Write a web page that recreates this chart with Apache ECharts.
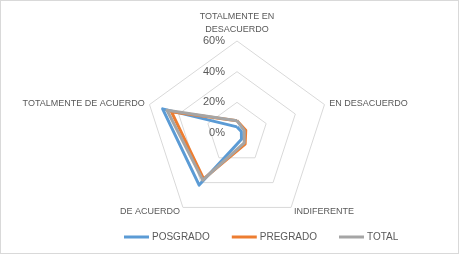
<!DOCTYPE html>
<html>
<head>
<meta charset="utf-8">
<script src="https://cdn.jsdelivr.net/npm/echarts@6/dist/echarts.min.js"></script>
<style>
  html, body { margin: 0; padding: 0; background: #fff; }
  #main { width: 457px; height: 252px; border: 1px solid #d9d9d9; }
</style>
</head>
<body>
<div id="main"></div>
<script>
  // categorias (sentido horario, empezando arriba como en Excel)
  var categorias = ['TOTALMENTE EN\nDESACUERDO', 'EN DESACUERDO', 'INDIFERENTE', 'DE ACUERDO', 'TOTALMENTE DE ACUERDO'];
  var posgrado = [4, 3, 5, 42, 51];
  var pregrado = [8, 6, 9, 37, 45];
  var total = [8, 5, 8, 38, 48];
  var escala = [0, 20, 40, 60];

  // echarts dibuja el radar en sentido antihorario -> invertir el orden (menos el primero)
  function horario(arr) {
    return [arr[0]].concat(arr.slice(1).reverse());
  }

  var chart = echarts.init(document.getElementById('main'));

  var option = {
    animation: false,
    color: ['#5b9bd5', '#ed7d31', '#a5a5a5'],
    legend: {
      bottom: 6,
      left: 118,
      icon: 'rect',
      itemWidth: 25,
      itemHeight: 3,
      itemGap: 22,
      textStyle: { color: '#595959', fontSize: 10, fontFamily: 'Liberation Sans', padding: [0, 0, 0, -2] },
      data: ['POSGRADO', 'PREGRADO', 'TOTAL']
    },
    radar: {
      center: [236, 132],
      radius: 92,
      startAngle: 90,
      shape: 'polygon',
      splitNumber: 3,
      indicator: horario(categorias).map(function (c) { return { name: c, max: escala[escala.length - 1], min: 0 }; }),
      axisName: { color: '#595959', fontSize: 9, fontFamily: 'Liberation Sans', lineHeight: 13 },
      nameGap: 5,
      axisLine: { show: false },
      axisTick: { show: false },
      axisLabel: { show: false },
      splitArea: { show: false },
      splitLine: { lineStyle: { color: '#d9d9d9', width: 1 } }
    },
    // eje de porcentajes sobre el eje superior
    grid: { left: 236, top: 40, height: 92, width: 1, containLabel: false },
    xAxis: { show: false, type: 'value' },
    yAxis: {
      type: 'value',
      min: escala[0],
      max: escala[escala.length - 1],
      interval: 20,
      axisLine: { show: false },
      axisTick: { show: false },
      splitLine: { show: false },
      axisLabel: {
        color: '#595959', fontSize: 11, fontFamily: 'Liberation Sans', margin: 12,
        formatter: '{value}%'
      }
    },
    series: [{
      type: 'radar',
      symbol: 'none',
      lineStyle: { width: 3 },
      data: [
        { name: 'POSGRADO', value: horario(posgrado) },
        { name: 'PREGRADO', value: horario(pregrado) },
        { name: 'TOTAL', value: horario(total) }
      ]
    }]
  };

  chart.setOption(option);
</script>
</body>
</html>
